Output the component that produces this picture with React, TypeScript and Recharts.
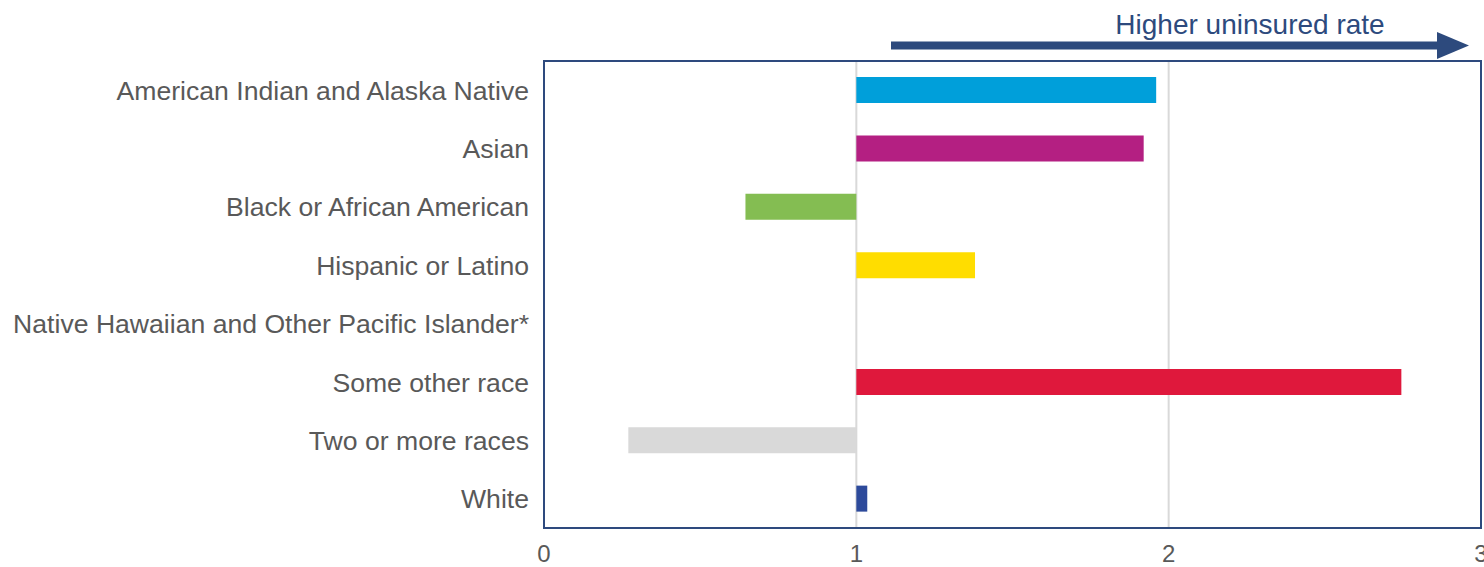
import React from "react";
import { BarChart, Bar, XAxis, YAxis, CartesianGrid, Cell, ReferenceArea } from "recharts";

const categories = [
  "American Indian and Alaska Native",
  "Asian",
  "Black or African American",
  "Hispanic or Latino",
  "Native Hawaiian and Other Pacific Islander*",
  "Some other race",
  "Two or more races",
  "White",
];
const ratios: (number | null)[] = [1.96, 1.92, 0.645, 1.38, null, 2.745, 0.27, 1.035];
const colors = ["#009FDA", "#B41F82", "#84BD52", "#FFDD00", "#FFFFFF", "#DF183C", "#D9D9D9", "#2D4A9B"];
const baseline = 1;
const xTicks = [0, 1, 2, 3];
const arrowLabel = "Higher uninsured rate";

const data = categories.map((name, i) => {
  const v = ratios[i];
  return {
    name,
    range: v == null ? null : [Math.min(baseline, v), Math.max(baseline, v)],
  };
});

const FONT = "'Liberation Sans', Arial, sans-serif";

export default function App() {
  return (
    <div style={{ position: "absolute", left: 0, top: 0, width: 1484, height: 567, background: "#fff" }}>
      <BarChart
        width={1484}
        height={567}
        data={data}
        layout="vertical"
        margin={{ top: 61, right: 3, bottom: 0, left: 0 }}
        barCategoryGap={16}
      >
        <CartesianGrid horizontal={false} stroke="#D9D9D9" strokeWidth={2} />
        <XAxis
          type="number"
          domain={[0, 3]}
          ticks={xTicks}
          height={39}
          axisLine={false}
          tickLine={false}
          tick={{ fill: "#595959", fontSize: 24, fontFamily: FONT }}
          tickMargin={11}
          interval={0}
        />
        <YAxis
          type="category"
          dataKey="name"
          width={544}
          axisLine={false}
          tickLine={false}
          tick={{ fill: "#595959", fontSize: 26.6, fontFamily: FONT }}
          tickMargin={9}
          interval={0}
        />
        <Bar dataKey="range" barSize={26} isAnimationActive={false}>
          {data.map((d, i) => (
            <Cell key={d.name} fill={colors[i]} />
          ))}
        </Bar>
        <ReferenceArea x1={0} x2={3} fill="none" stroke="#2E4A7E" strokeWidth={2} ifOverflow="visible" />
      </BarChart>
      <svg
        width={1484}
        height={567}
        style={{ position: "absolute", left: 0, top: 0, pointerEvents: "none" }}
      >
        <text x={1250} y={34} textAnchor="middle" fill="#2D4A7D" fontSize={28} fontFamily={FONT}>
          {arrowLabel}
        </text>
        <rect x={891} y={41.5} width={548} height={8} fill="#2D4A7D" />
        <polygon points="1437,32 1469,45.5 1437,59" fill="#2D4A7D" />
      </svg>
    </div>
  );
}
